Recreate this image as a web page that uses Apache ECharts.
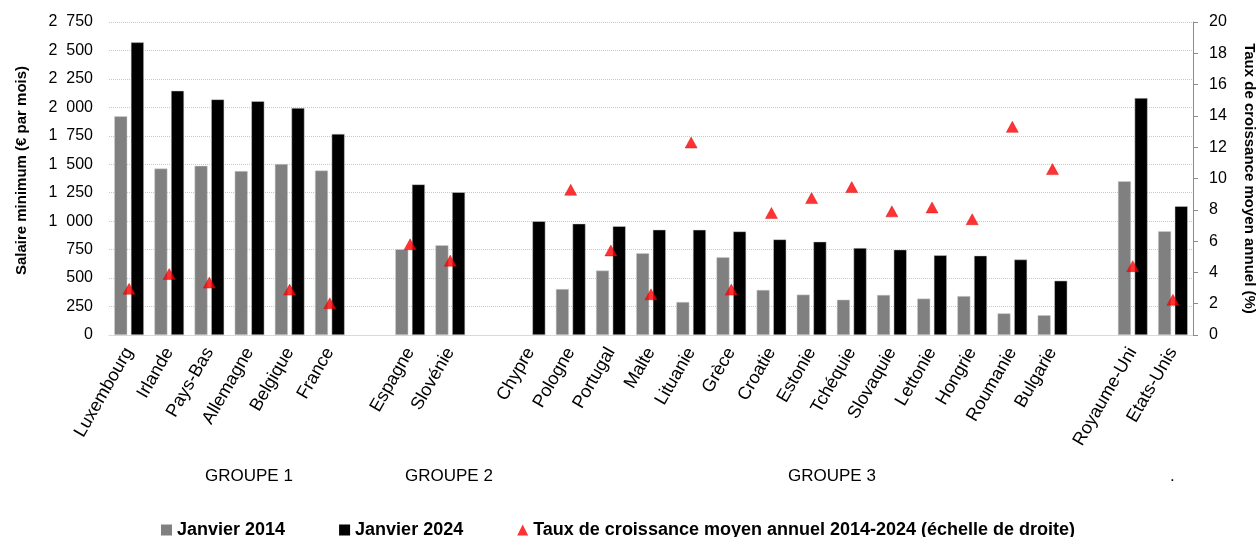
<!DOCTYPE html>
<html>
<head>
<meta charset="utf-8">
<script src="https://cdn.jsdelivr.net/npm/echarts@6/dist/echarts.min.js"></script>
<style>
  html, body { margin: 0; padding: 0; background: #fff; }
  #chart { width: 1258px; height: 537px; }
</style>
</head>
<body>
<div id="chart"></div>
<script>
// pays (les chaînes vides servent d'espaces entre les groupes)
const categories = ['Luxembourg', 'Irlande', 'Pays-Bas', 'Allemagne', 'Belgique', 'France', ' ',
  'Espagne', 'Slovénie', '  ',
  'Chypre', 'Pologne', 'Portugal', 'Malte', 'Lituanie', 'Grèce', 'Croatie', 'Estonie', 'Tchéquie',
  'Slovaquie', 'Lettonie', 'Hongrie', 'Roumanie', 'Bulgarie', '   ',
  'Royaume-Uni', 'Etats-Unis']

const janvier2014 = [1921, 1462, 1486, 1440, 1502, 1445, null,
  753, 789, null,
  null, 404, 566, 718, 290, 684, 396, 355, 310, 352, 320, 342, 190, 174, null,
  1351, 912]

const janvier2024 = [2571, 2146, 2070, 2054, 1994, 1767, null,
  1323, 1254, null,
  1000, 978, 956, 925, 924, 910, 840, 820, 764, 750, 700, 697, 663, 477, null,
  2082, 1132]

// taux de croissance moyen annuel 2014-2024 (%)
const croissance = [2.95, 3.9, 3.35, null, 2.9, 2.03, null,
  5.8, 4.75, null,
  null, 9.28, 5.4, 2.6, 12.3, 2.9, 7.8, 8.75, 9.45, 7.9, 8.15, 7.4, 13.3, 10.6, null,
  4.4, 2.25]

const groupes = ['GROUPE 1', 'GROUPE 2', 'GROUPE 3', '.']

const font = 'Liberation Sans, Arial, sans-serif'
const chart = echarts.init(document.getElementById('chart'))

// séparateur de milliers : espace de la largeur d'un chiffre
const fmtMilliers = (v) => {
  const s = String(v)
  return s.length > 3 ? s.slice(0, -3) + '\u2007' + s.slice(-3) : s
}

chart.setOption({
  animation: false,
  textStyle: { fontFamily: font, color: '#000' },
  grid: { left: 109, right: 65, top: 22, bottom: 202, outerBoundsMode: 'none' },
  legend: {
    left: 156,
    top: 516,
    itemWidth: 11,
    itemHeight: 11,
    itemGap: 54,
    itemStyle: { borderWidth: 0 },
    textStyle: { fontSize: 18, fontWeight: 'bold', color: '#000', fontFamily: font },
    data: [
      { name: 'Janvier 2014', icon: 'rect' },
      { name: 'Janvier 2024', icon: 'rect' },
      { name: 'Taux de croissance moyen annuel 2014-2024 (échelle de droite)', icon: 'triangle' },
    ],
  },
  xAxis: {
    type: 'category',
    data: categories,
    axisLine: { lineStyle: { color: '#d9d9d9' } },
    axisTick: { show: false },
    axisLabel: {
      interval: 0,
      rotate: 60,
      margin: 14,
      fontSize: 18,
      color: '#000',
    },
  },
  yAxis: [
    {
      type: 'value',
      min: 0,
      max: 2750,
      interval: 250,
      name: 'Salaire minimum (€ par mois)',
      nameLocation: 'middle',
      nameRotate: 90,
      nameGap: 80,
      nameTextStyle: { fontSize: 15, fontWeight: 'bold', color: '#000', padding: [0, 0, 0, 16] },
      axisLine: { show: false },
      axisTick: { show: false },
      axisLabel: { fontSize: 16, color: '#000', margin: 16, formatter: fmtMilliers },
      splitLine: { lineStyle: { color: '#c8c8c8', type: 'dotted' } },
    },
    {
      type: 'value',
      min: 0,
      max: 20,
      interval: 2,
      position: 'right',
      name: 'Taux de croissance moyen annuel (%)',
      nameLocation: 'middle',
      nameRotate: -90,
      nameGap: 49,
      nameTextStyle: { fontSize: 15, fontWeight: 'bold', color: '#000' },
      axisLine: { show: true, lineStyle: { color: '#8c8c8c' } },
      axisTick: { show: true, length: 5, lineStyle: { color: '#8c8c8c' } },
      axisLabel: { fontSize: 16, color: '#000', margin: 16 },
      splitLine: { show: false },
    },
  ],
  series: [
    {
      name: 'Janvier 2014',
      type: 'bar',
      data: janvier2014,
      barWidth: 13,
      barGap: '28%',
      itemStyle: { color: '#808080', borderColor: '#d0d0d0', borderWidth: 0.5 },
    },
    {
      name: 'Janvier 2024',
      type: 'bar',
      data: janvier2024,
      barWidth: 13,
      barGap: '28%',
      itemStyle: { color: '#000000', borderColor: '#d0d0d0', borderWidth: 0.5 },
    },
    {
      name: 'Taux de croissance moyen annuel 2014-2024 (échelle de droite)',
      type: 'scatter',
      yAxisIndex: 1,
      data: croissance,
      symbol: 'triangle',
      symbolSize: [12, 11],
      itemStyle: { color: '#ff0000', borderColor: '#d00000', borderWidth: 0.5 },
      z: 5,
    },
  ],
  graphic: [
    { type: 'text', left: 205, top: 468, style: { text: groupes[0], font: '17px ' + font, fill: '#000' } },
    { type: 'text', left: 405, top: 468, style: { text: groupes[1], font: '17px ' + font, fill: '#000' } },
    { type: 'text', left: 788, top: 468, style: { text: groupes[2], font: '17px ' + font, fill: '#000' } },
    { type: 'text', left: 1170, top: 468, style: { text: groupes[3], font: '17px ' + font, fill: '#000' } },
  ],
})
</script>
</body>
</html>
